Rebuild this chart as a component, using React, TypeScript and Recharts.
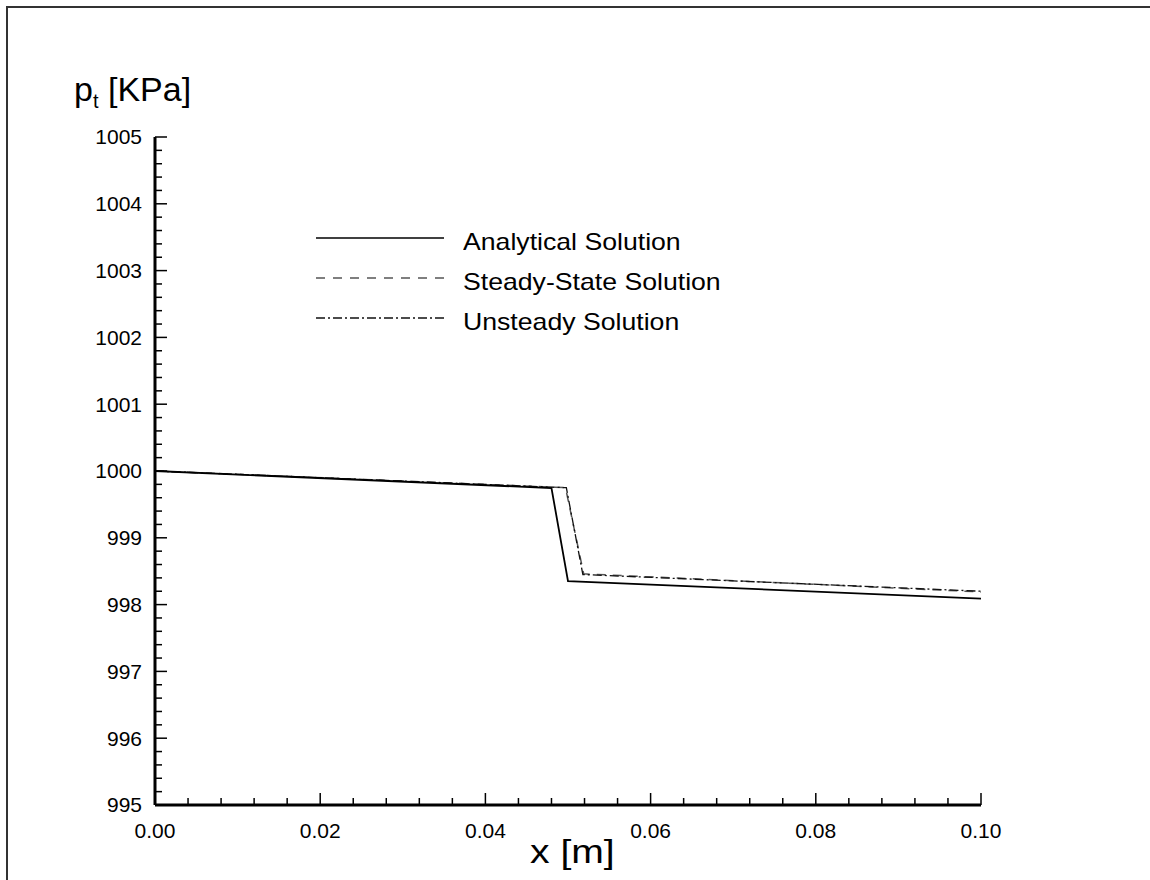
import React from 'react'
import { LineChart, Line, XAxis, YAxis } from 'recharts'

// total pressure along the duct, x in m, p in KPa
const analyticalX = [0, 0.048, 0.05, 0.1]
const analyticalP = [1000, 999.745, 998.35, 998.09]

const steadyX = [0, 0.0497, 0.0519, 0.1]
const steadyP = [1000, 999.75, 998.46, 998.19]

const unsteadyX = [0, 0.0498, 0.0518, 0.1]
const unsteadyP = [1000, 999.75, 998.45, 998.2]

// all tick positions (majors labelled, 4 minors between them)
const xTicks = Array.from({ length: 26 }, (_, i) => +(i * 0.004).toFixed(3))
const yTicks = Array.from({ length: 51 }, (_, i) => +(995 + i * 0.2).toFixed(1))

const legendItems = [
	{ name: 'Analytical Solution', stroke: '#000', dash: undefined, width: 1.6 },
	{ name: 'Steady-State Solution', stroke: '#555', dash: '9 8', width: 1.5 },
	{ name: 'Unsteady Solution', stroke: '#111', dash: '9 3 2 3', width: 1.3 },
]

const toRows = (xs: number[], ps: number[]) => xs.map((x, i) => ({ x, p: ps[i] }))

const font = '"Liberation Sans", Arial, sans-serif'
const X_MARGIN = 18
const Y_MARGIN = 13
const MAJOR = 12
const MINOR = 7

const isXMajor = (v: number) => Math.abs(v * 50 - Math.round(v * 50)) < 1e-6
const isYMajor = (v: number) => Math.abs(v - Math.round(v)) < 1e-6

const XTick = (props: any) => {
	const { x, y, payload } = props
	const v = payload.value as number
	const major = isXMajor(v)
	const axisY = y - X_MARGIN
	return (
		<g>
			<line x1={x} x2={x} y1={axisY} y2={axisY - (major ? MAJOR : MINOR)} stroke="#000" strokeWidth={1.5} />
			{major && (
				<text x={x} y={y} dy="0.71em" textAnchor="middle" fontSize={21} fill="#000" fontFamily={font}>
					{v.toFixed(2)}
				</text>
			)}
		</g>
	)
}

const YTick = (props: any) => {
	const { x, y, payload } = props
	const v = payload.value as number
	const major = isYMajor(v)
	const axisX = x + Y_MARGIN
	return (
		<g>
			<line x1={axisX} x2={axisX + (major ? MAJOR : MINOR)} y1={y} y2={y} stroke="#000" strokeWidth={1.5} />
			{major && (
				<text x={x} y={y} dy="0.355em" textAnchor="end" fontSize={21} fill="#000" fontFamily={font}>
					{Math.round(v)}
				</text>
			)}
		</g>
	)
}

const App: React.FC = () => {
	const analytical = toRows(analyticalX, analyticalP)
	const steady = toRows(steadyX, steadyP)
	const unsteady = toRows(unsteadyX, unsteadyP)

	return (
		<div style={{ position: 'absolute', left: 0, top: 0, width: 1150, height: 880, background: '#fff', fontFamily: font, overflow: 'hidden' }}>
			{/* frame */}
			<div style={{ position: 'absolute', left: 6, top: 6, width: 1160, height: 900, borderTop: '2px solid #333', borderLeft: '2px solid #333' }} />

			<LineChart width={1150} height={880} margin={{ top: 137, right: 169, bottom: 74, left: 154 }}>
				<XAxis
					dataKey="x"
					type="number"
					domain={[0, 0.1]}
					allowDataOverflow
					ticks={xTicks}
					interval={0}
					height={1}
					tickLine={false}
					tickSize={0}
					tickMargin={X_MARGIN}
					axisLine={{ stroke: '#000', strokeWidth: 3 }}
					tick={XTick}
				/>
				<YAxis
					type="number"
					domain={[995, 1005]}
					allowDataOverflow
					ticks={yTicks}
					interval={0}
					width={1}
					tickLine={false}
					tickSize={0}
					tickMargin={Y_MARGIN}
					axisLine={{ stroke: '#000', strokeWidth: 3 }}
					tick={YTick}
				/>

				<Line data={steady} dataKey="p" type="linear" stroke="#555" strokeWidth={1.5} strokeDasharray="9 7" dot={false} isAnimationActive={false} />
				<Line data={unsteady} dataKey="p" type="linear" stroke="#111" strokeWidth={1.3} strokeDasharray="9 3 2 3" dot={false} isAnimationActive={false} />
				<Line data={analytical} dataKey="p" type="linear" stroke="#000" strokeWidth={1.8} dot={false} isAnimationActive={false} />
			</LineChart>

			{/* legend inside plot */}
			<div style={{ position: 'absolute', left: 316, top: 222 }}>
				{legendItems.map((item) => (
					<div key={item.name} style={{ display: 'flex', alignItems: 'center', height: 40 }}>
						<svg width={128} height={20} style={{ marginTop: -8 }}>
							<line x1={0} y1={10} x2={128} y2={10} stroke={item.stroke} strokeWidth={item.width} strokeDasharray={item.dash} />
						</svg>
						<span style={{ marginLeft: 19, fontSize: 24, color: '#000', lineHeight: 1, display: 'inline-block', transform: 'scaleX(1.11)', transformOrigin: 'left center', whiteSpace: 'nowrap' }}>{item.name}</span>
					</div>
				))}
			</div>

			{/* axis titles */}
			<div style={{ position: 'absolute', left: 74, top: 72, fontSize: 34, lineHeight: 1, color: '#000' }}>
				p<sub style={{ fontSize: 20, verticalAlign: '-0.35em' }}>t</sub> [KPa]
			</div>
			<div style={{ position: 'absolute', left: 530, top: 834, fontSize: 34, lineHeight: 1, color: '#000', transform: 'scaleX(1.15)', transformOrigin: 'left center' }}>x [m]</div>
		</div>
	)
}

export default App
